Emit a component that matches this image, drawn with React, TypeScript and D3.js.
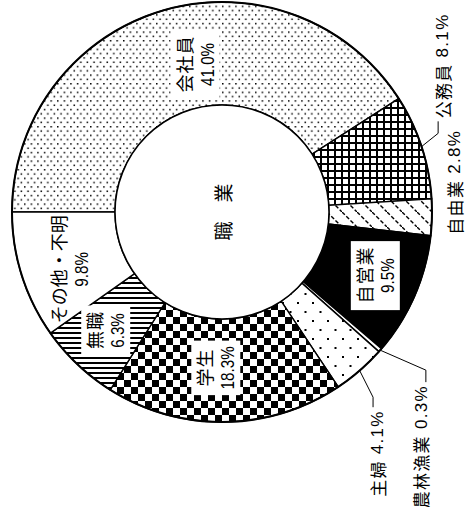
import React from 'react';
import * as d3 from 'd3';

// 職業 の構成比 (%)
const categories = ['会社員', '公務員', '自由業', '自営業', '農林漁業', '主婦', '学生', '無職', 'その他・不明'];
const values = [41.0, 8.1, 2.8, 9.5, 0.3, 4.1, 18.3, 6.3, 9.8];
const valueLabels = ['41.0%', '8.1%', '2.8%', '9.5%', '0.3%', '4.1%', '18.3%', '6.3%', '9.8%'];
const centerTitle = '職　業';

const W = 467;
const H = 507;
const cx = 222;
const cy = 212;
const R = 210;
const r0 = 107;

const JP = '"Noto Sans CJK JP", sans-serif';
const NUM = '"Liberation Sans", Arial, sans-serif';

const fills = [
  'url(#dotsFine)',
  'url(#grid)',
  'url(#dashDiag)',
  '#000',
  '#fff',
  'url(#dotsSparse)',
  'url(#checker)',
  'url(#hLines)',
  '#fff',
];

// label layout (inside labels: angle nudge / radius, box = has white box)
const inside: Record<string, { da: number; r: number; box: boolean; ls: number }> = {
  会社員: { da: 6, r: 150, box: true, ls: 1 },
  自営業: { da: -1, r: 166, box: true, ls: 1 },
  学生: { da: 3, r: 156, box: true, ls: 1 },
  無職: { da: 1, r: 166, box: true, ls: 1 },
  'その他・不明': { da: -3, r: 163, box: false, ls: 0 },
};
// outside labels with leader lines
const outside: Record<string, { ea: number; er: number; drop: number; dx: number; anchor: string; leader: boolean }> = {
  公務員: { ea: 70, er: 230, drop: -12, dx: 4, anchor: 'start', leader: true },
  自由業: { ea: 82.7, er: 234, drop: 0, dx: 0, anchor: 'middle', leader: false },
  農林漁業: { ea: 127.8, er: 258, drop: 12, dx: -5, anchor: 'end', leader: true },
  主婦: { ea: 140.8, er: 239, drop: 10, dx: 4, anchor: 'end', leader: true },
};

const polar = (deg: number, rad: number): [number, number] => {
  const a = (deg * Math.PI) / 180;
  return [cx + rad * Math.sin(a), cy - rad * Math.cos(a)];
};

const App = () => {
  const pie = d3
    .pie<number>()
    .sort(null)
    .value((d) => d)
    .startAngle(-Math.PI / 2)
    .endAngle(1.5 * Math.PI);
  const arcs = pie(values);
  const arc = d3.arc<d3.PieArcDatum<number>>().innerRadius(r0).outerRadius(R);
  const toDeg = (a: number) => (a * 180) / Math.PI;
  const sx = 0.8; // condensed digits

  return (
    <svg
      width={W}
      height={H}
      style={{ position: 'absolute', left: 0, top: 0, background: '#fff' }}
    >
      <defs>
        <pattern id="dotsFine" patternUnits="userSpaceOnUse" width={6.6} height={8.6}>
          <rect width={6.6} height={8.6} fill="#fff" />
          <rect x={0} y={0} width={1.5} height={1.5} fill="#000" />
          <rect x={3.3} y={4.3} width={1.5} height={1.5} fill="#000" />
        </pattern>
        <pattern id="grid" patternUnits="userSpaceOnUse" width={7} height={7}>
          <rect width={7} height={7} fill="#fff" />
          <rect x={0} y={0} width={2} height={7} fill="#000" />
          <rect x={0} y={0} width={7} height={2} fill="#000" />
        </pattern>
        <pattern id="dashDiag" patternUnits="userSpaceOnUse" width={15} height={15}>
          <rect width={15} height={15} fill="#fff" />
          <line x1={0} y1={0} x2={15} y2={15} stroke="#000" strokeWidth={1.4} strokeDasharray="4 2" />
        </pattern>
        <pattern id="dotsSparse" patternUnits="userSpaceOnUse" width={15} height={18}>
          <rect width={15} height={18} fill="#fff" />
          <rect x={0} y={0} width={2} height={2} fill="#000" />
          <rect x={7.5} y={9} width={2} height={2} fill="#000" />
        </pattern>
        <pattern id="checker" patternUnits="userSpaceOnUse" width={14} height={14}>
          <rect width={14} height={14} fill="#fff" />
          <rect x={0} y={0} width={7} height={7} fill="#000" />
          <rect x={7} y={7} width={7} height={7} fill="#000" />
        </pattern>
        <pattern id="hLines" patternUnits="userSpaceOnUse" width={5} height={5}>
          <rect width={5} height={5} fill="#fff" />
          <rect x={0} y={0} width={5} height={2} fill="#000" />
        </pattern>
      </defs>

      <g transform={`translate(${cx},${cy})`}>
        {arcs.map((a, i) => (
          <path key={i} d={arc(a) || ''} fill={fills[i]} stroke="#000" strokeWidth={1.4} />
        ))}
      </g>
      <circle cx={cx} cy={cy} r={R} fill="none" stroke="#000" strokeWidth={2} />
      <circle cx={cx} cy={cy} r={r0} fill="#fff" stroke="#000" strokeWidth={1.5} />

      {/* inside labels */}
      {arcs.map((a, i) => {
        const cfg = inside[categories[i]];
        if (!cfg) return null;
        const mid = toDeg((a.startAngle + a.endAngle) / 2) + cfg.da;
        const [x, y] = polar(mid, cfg.r);
        const name = categories[i];
        const bw = Math.max(name.length * 19, valueLabels[i].length * 8.5) + 12;
        const bh = 49;
        return (
          <g key={`in${i}`} transform={`translate(${x},${y}) rotate(-90)`}>
            {cfg.box && <rect x={-bw / 2} y={-bh / 2} width={bw} height={bh} fill="#fff" />}
            <text
              x={cfg.ls / 2}
              y={-11.5}
              textAnchor="middle"
              dominantBaseline="central"
              fontFamily={JP}
              fontSize={18}
              letterSpacing={cfg.ls}
            >
              {name}
            </text>
            <text
              transform={`scale(${sx},1)`}
              x={0}
              y={12}
              textAnchor="middle"
              dominantBaseline="central"
              fontFamily={NUM}
              fontSize={19}
            >
              {valueLabels[i]}
            </text>
          </g>
        );
      })}

      {/* outside labels with leaders */}
      {arcs.map((a, i) => {
        const cfg = outside[categories[i]];
        if (!cfg) return null;
        const mid = toDeg((a.startAngle + a.endAngle) / 2);
        const p0 = polar(mid, R);
        const p1 = polar(cfg.ea, cfg.er);
        const p2: [number, number] = [p1[0], p1[1] + cfg.drop];
        const gap = cfg.drop === 0 ? 0 : 3 * Math.sign(cfg.drop);
        const tx = p2[0] + cfg.dx;
        const ty = p2[1] + gap;
        return (
          <g key={`out${i}`}>
            {cfg.leader && (
              <polyline
                points={[p0, p1, p2].map((p) => p.join(',')).join(' ')}
                fill="none"
                stroke="#000"
                strokeWidth={1}
              />
            )}
            <text
              transform={`translate(${tx},${ty}) rotate(-90)`}
              textAnchor={cfg.anchor}
              dominantBaseline="central"
              fontFamily={JP}
              fontSize={17}
              letterSpacing={1.3}
            >
              {categories[i]}
              <tspan fontFamily={NUM} fontSize={17}>
                {' ' + valueLabels[i]}
              </tspan>
            </text>
          </g>
        );
      })}

      <text
        transform={`translate(${cx},${cy}) rotate(-90)`}
        textAnchor="middle"
        dominantBaseline="central"
        fontFamily={JP}
        fontSize={19}
      >
        {centerTitle}
      </text>
    </svg>
  );
};

export default App;
